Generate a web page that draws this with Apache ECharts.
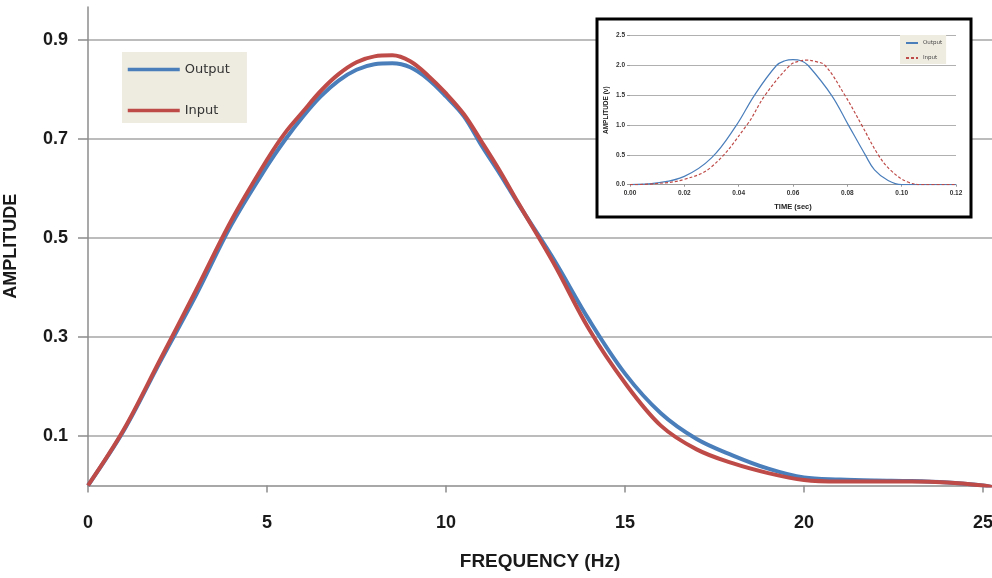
<!DOCTYPE html>
<html>
<head>
<meta charset="utf-8">
<script src="https://cdn.jsdelivr.net/npm/echarts@6/dist/echarts.min.js"></script>
<style>html,body{margin:0;padding:0;background:#fff;}#c{width:992px;height:578px;}</style>
</head>
<body>
<div id="c"></div>
<script>
// ---- Main chart data (frequency domain) ----
const freq       = [0, 1, 2, 3, 4, 5, 5.5, 6, 6.5, 7, 7.5, 8, 8.5, 9, 9.5, 10, 10.5, 11, 11.5, 12, 13, 14, 15, 16, 17, 18, 19, 20, 21, 22, 23, 24, 25, 25.25];
const ampOutput  = [0, 0.111, 0.248, 0.382, 0.526, 0.645, 0.698, 0.745, 0.786, 0.818, 0.840, 0.851, 0.853, 0.845, 0.821, 0.786, 0.746, 0.686, 0.630, 0.571, 0.458, 0.334, 0.226, 0.146, 0.094, 0.061, 0.034, 0.016, 0.012, 0.010, 0.009, 0.006, 0.0, -0.003];
const ampInput   = [0, 0.113, 0.252, 0.392, 0.535, 0.658, 0.712, 0.755, 0.797, 0.831, 0.855, 0.867, 0.869, 0.857, 0.828, 0.792, 0.750, 0.694, 0.636, 0.573, 0.450, 0.315, 0.207, 0.121, 0.073, 0.045, 0.025, 0.011, 0.008, 0.008, 0.008, 0.006, 0.0, -0.003];
const xTicks = [0, 5, 10, 15, 20, 25];
const yTicks = [0.1, 0.3, 0.5, 0.7, 0.9];

// ---- Inset data (time domain) ----
const timeOutput = [0, 0.01, 0.02, 0.03, 0.0392, 0.0458, 0.0539, 0.057, 0.06, 0.063, 0.0656, 0.0742, 0.0804, 0.0866, 0.09, 0.095, 0.1, 0.12];
const voltOutput = [0, 0.03, 0.14, 0.45, 1.0, 1.5, 2.0, 2.08, 2.1, 2.08, 2.0, 1.5, 1.0, 0.5, 0.25, 0.07, 0, 0];
const timeInput  = [0, 0.01, 0.02, 0.03, 0.043, 0.0497, 0.0588, 0.062, 0.065, 0.068, 0.0718, 0.0791, 0.0853, 0.0914, 0.096, 0.102, 0.108, 0.12];
const voltInput  = [0, 0.02, 0.09, 0.30, 1.0, 1.5, 2.0, 2.07, 2.09, 2.07, 2.0, 1.5, 1.0, 0.5, 0.24, 0.05, 0, 0];

const zip = (xs, ys) => xs.map((x, i) => [x, ys[i]]);
const BLUE = '#4a7ebb', RED = '#be4b48';
const FONT = 'Liberation Sans, Arial, sans-serif';

const chart = echarts.init(document.getElementById('c'), null, {renderer: 'canvas'});
chart.setOption({
  animation: false,
  backgroundColor: '#fff',
  grid: [
    {left: 88, right: 0, top: 7, bottom: 92.5, containLabel: false, outerBoundsMode: 'none'},
    {left: 630, width: 326, top: 35.7, height: 149, containLabel: false, outerBoundsMode: 'none'}
  ],
  graphic: [{
    type: 'rect', z: 5,
    shape: {x: 597, y: 19, width: 374, height: 198},
    style: {fill: '#fff', stroke: '#000', lineWidth: 3}
  }],
  legend: [
    {
      data: ['Output', 'Input'], orient: 'vertical', left: 122, top: 52,
      padding: [11, 17, 6, 4], itemGap: 28, itemWidth: 52, itemHeight: 14,
      backgroundColor: '#eeece1',
      itemStyle: {opacity: 0},
      lineStyle: {width: 3.5},
      textStyle: {fontFamily: 'DejaVu Sans', fontSize: 13, color: '#333'}
    },
    {
      data: ['Output (inset)', 'Input (inset)'], orient: 'vertical', left: 900, top: 35, z: 12,
      padding: [5, 4, 3, 5], itemGap: 9, itemWidth: 12, itemHeight: 6,
      backgroundColor: '#eeece1',
      itemStyle: {opacity: 0},
      formatter: n => n.replace(' (inset)', ''),
      textStyle: {fontFamily: 'DejaVu Sans', fontSize: 5.5, color: '#444'}
    }
  ],
  xAxis: [
    {
      type: 'value', gridIndex: 0, min: 0, max: 25.25,
      name: 'FREQUENCY (Hz)', nameLocation: 'middle', nameGap: 67,
      nameTextStyle: {fontFamily: FONT, fontWeight: 'bold', fontSize: 19, color: '#1a1a1a'},
      axisLine: {show: true, onZero: false, lineStyle: {color: '#8c8c8c', width: 1.5}},
      axisTick: {show: true, length: 7, customValues: xTicks, lineStyle: {color: '#8c8c8c', width: 1.5}},
      axisLabel: {customValues: xTicks, margin: 29, fontFamily: FONT, fontWeight: 'bold', fontSize: 18, color: '#1a1a1a'},
      splitLine: {show: false}
    },
    {
      type: 'value', gridIndex: 1, min: 0, max: 0.12, interval: 0.02, z: 10,
      name: 'TIME (sec)', nameLocation: 'middle', nameGap: 18,
      nameTextStyle: {fontFamily: FONT, fontWeight: 'bold', fontSize: 7.5, color: '#222'},
      axisLine: {show: true, onZero: false, lineStyle: {color: '#999', width: 1}},
      axisTick: {show: true, length: 2, lineStyle: {color: '#999'}},
      axisLabel: {margin: 5, fontFamily: FONT, fontWeight: 'bold', fontSize: 6.5, color: '#333', formatter: v => v.toFixed(2)},
      splitLine: {show: false}
    }
  ],
  yAxis: [
    {
      type: 'value', gridIndex: 0, min: 0, max: 0.9667,
      name: 'AMPLITUDE', nameLocation: 'middle', nameGap: 68,
      nameTextStyle: {fontFamily: FONT, fontWeight: 'bold', fontSize: 18, color: '#1a1a1a'},
      axisLine: {show: true, lineStyle: {color: '#8c8c8c', width: 1.5}},
      axisTick: {show: true, length: 10, customValues: yTicks, lineStyle: {color: '#8c8c8c', width: 1.5}},
      axisLabel: {customValues: yTicks, margin: 20, fontFamily: FONT, fontWeight: 'bold', fontSize: 18, color: '#1a1a1a', formatter: v => v.toFixed(1)},
      splitLine: {show: true, lineStyle: {color: '#a6a6a6', width: 1.5}}
    },
    {
      type: 'value', gridIndex: 1, min: 0, max: 2.5, interval: 0.5, z: 10,
      name: 'AMPLITUDE (v)', nameLocation: 'middle', nameGap: 20,
      nameTextStyle: {fontFamily: FONT, fontWeight: 'bold', fontSize: 6.5, color: '#222'},
      axisLine: {show: false},
      axisTick: {show: true, length: 3, lineStyle: {color: '#999'}},
      axisLabel: {margin: 5, fontFamily: FONT, fontWeight: 'bold', fontSize: 6.5, color: '#333', formatter: v => v.toFixed(1)},
      splitLine: {show: true, lineStyle: {color: '#b0b0b0', width: 1}}
    }
  ],
  series: [
    {
      name: 'Output', type: 'line', xAxisIndex: 0, yAxisIndex: 0, z: 2,
      data: zip(freq, ampOutput), smooth: 0.35, symbol: 'none',
      lineStyle: {color: BLUE, width: 4}, itemStyle: {color: BLUE}
    },
    {
      name: 'Input', type: 'line', xAxisIndex: 0, yAxisIndex: 0, z: 3,
      data: zip(freq, ampInput), smooth: 0.35, symbol: 'none',
      lineStyle: {color: RED, width: 4}, itemStyle: {color: RED}
    },
    {
      name: 'Output (inset)', type: 'line', xAxisIndex: 1, yAxisIndex: 1, z: 10,
      data: zip(timeOutput, voltOutput), smooth: 0.4, symbol: 'none',
      lineStyle: {color: BLUE, width: 1.2}, itemStyle: {color: BLUE}
    },
    {
      name: 'Input (inset)', type: 'line', xAxisIndex: 1, yAxisIndex: 1, z: 10,
      data: zip(timeInput, voltInput), smooth: 0.4, symbol: 'none',
      lineStyle: {color: RED, width: 1.2, type: [3, 2]}, itemStyle: {color: RED}
    }
  ]
});
</script>
</body>
</html>
